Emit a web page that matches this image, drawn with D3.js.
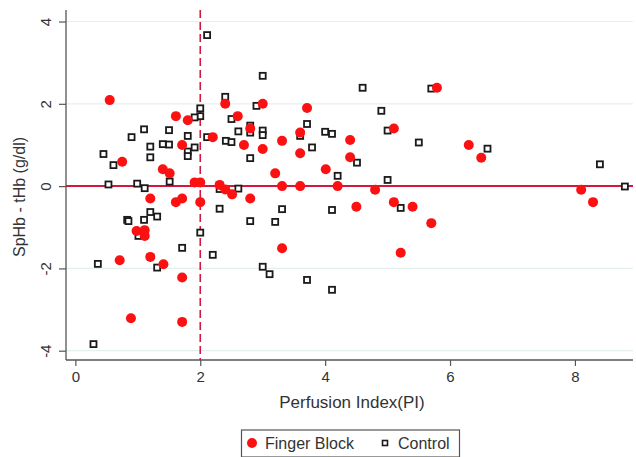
<!DOCTYPE html>
<html><head><meta charset="utf-8">
<script src="https://cdn.jsdelivr.net/npm/d3@7"></script>
<style>body{margin:0;background:#fff}svg{display:block;font-family:"Liberation Sans",Arial,Helvetica,sans-serif}</style>
</head><body>
<svg id="c" width="636" height="457"></svg>
<script>
const xTicks = [0, 2, 4, 6, 8];
const yTicks = [-4, -2, 0, 2, 4];
const seriesNames = ["Finger Block", "Control"];
const xLabel = "Perfusion Index(PI)";
const yLabel = "SpHb - tHb (g/dl)";
const refX = 2;
const refY = 0;

const fingerX = [0.55,2.40,1.61,1.80,2.60,2.80,2.20,2.70,1.71,0.75,1.40,1.51,1.91,2.00,2.31,2.40,2.51,2.80,1.20,1.61,1.71,2.00,0.98,1.11,1.11,0.71,1.20,1.41,1.71,0.89,1.71,5.79,3.00,3.71,3.60,5.10,3.31,4.40,3.00,3.60,4.40,3.20,4.01,3.31,3.60,4.20,4.80,5.10,5.40,4.50,5.70,3.31,5.21,6.30,6.50,8.10,8.29];
const fingerY = [2.09,2.00,1.70,1.60,1.70,1.40,1.19,1.00,1.00,0.59,0.41,0.31,0.09,0.09,0.03,-0.08,-0.20,-0.30,-0.30,-0.39,-0.30,-0.39,-1.09,-1.07,-1.21,-1.80,-1.72,-1.90,-2.22,-3.21,-3.30,2.39,2.00,1.90,1.30,1.40,1.10,1.12,0.90,0.80,0.70,0.31,0.41,0.00,0.00,0.00,-0.09,-0.39,-0.50,-0.50,-0.90,-1.51,-1.62,1.00,0.69,-0.09,-0.39];

const controlX = [2.11,2.40,2.90,2.00,2.00,1.91,2.50,2.80,2.80,2.61,1.10,1.50,1.80,0.90,2.11,2.41,2.50,2.80,1.20,1.40,1.50,1.91,1.80,1.80,0.45,1.20,0.61,1.51,0.53,0.99,1.11,2.31,2.61,2.31,1.20,1.31,1.10,0.83,0.85,2.80,1.01,2.00,1.71,2.20,0.36,1.31,0.29,3.00,4.60,5.70,4.90,3.71,3.00,3.00,3.60,4.00,4.11,5.00,5.50,3.79,4.51,4.20,5.00,5.21,3.31,4.11,3.20,3.00,3.11,3.71,4.11,6.60,8.40,8.80];
const controlY = [3.67,2.17,1.95,1.89,1.70,1.67,1.63,1.47,1.30,1.33,1.38,1.36,1.22,1.19,1.19,1.10,1.07,0.68,0.96,1.02,1.01,0.94,0.84,0.73,0.78,0.70,0.51,0.11,0.04,0.06,-0.05,-0.07,-0.06,-0.55,-0.63,-0.74,-0.82,-0.82,-0.85,-0.85,-1.21,-1.13,-1.50,-1.67,-1.89,-1.98,-3.84,2.68,2.39,2.37,1.83,1.51,1.35,1.24,1.22,1.32,1.27,1.35,1.06,0.94,0.57,0.25,0.15,-0.53,-0.56,-0.58,-0.87,-1.96,-2.14,-2.28,-2.52,0.91,0.53,-0.01];

const svg = d3.select("#c");
const L = 66, R = 633, T = 10, B = 360;
const x = d3.scaleLinear().domain([-0.15, 8.93]).range([L, R]);
const y = d3.scaleLinear().domain([-4.226, 4.28]).range([B, T]);
const lineCol = "#d3173f", axisCol = "#555", red = "#fb1111";
const fmt = d => String(d);

// gridlines
svg.append("g").selectAll("line").data(yTicks.filter(d => d !== 0)).join("line")
  .attr("x1", L).attr("x2", R).attr("y1", d => y(d)).attr("y2", d => y(d))
  .attr("stroke", "#e6eff0").attr("stroke-width", 1.2);

// x axis
const gx = svg.append("g").attr("transform", `translate(0,${B})`)
  .call(d3.axisBottom(x).tickValues(xTicks).tickSize(6).tickPadding(5).tickFormat(fmt));
gx.select(".domain").attr("stroke", axisCol).attr("stroke-width", 1.3).attr("d", `M${L},0H${R}`);
gx.selectAll(".tick line").attr("stroke", axisCol).attr("stroke-width", 1.2);
gx.selectAll(".tick text").attr("font-size", 15).attr("fill", "#333").attr("font-family", "Liberation Sans, Arial");

// y axis
const gy = svg.append("g").attr("transform", `translate(${L},0)`)
  .call(d3.axisLeft(y).tickValues(yTicks).tickSize(7).tickFormat(fmt));
gy.select(".domain").attr("stroke", axisCol).attr("stroke-width", 1.3).attr("d", `M0,${T}V${B}`);
gy.selectAll(".tick line").attr("stroke", axisCol).attr("stroke-width", 1.2);
gy.selectAll(".tick text").attr("font-size", 15).attr("fill", "#333").attr("font-family", "Liberation Sans, Arial")
  .attr("transform", "rotate(-90)").attr("x", 0).attr("y", -15.5).attr("dy", 0).attr("text-anchor", "middle");

// reference lines
svg.append("line").attr("x1", L).attr("x2", R).attr("y1", y(refY)).attr("y2", y(refY))
  .attr("stroke", lineCol).attr("stroke-width", 2);
svg.append("line").attr("x1", x(refX)).attr("x2", x(refX)).attr("y1", T).attr("y2", B)
  .attr("stroke", lineCol).attr("stroke-width", 1.6).attr("stroke-dasharray", "8,4");

// control squares
const cData = controlX.map((v, i) => ({x: v, y: controlY[i]}));
const s = 6;
svg.append("g").selectAll("rect").data(cData).join("rect")
  .attr("x", d => x(d.x) - s / 2).attr("y", d => y(d.y) - s / 2)
  .attr("width", s).attr("height", s)
  .attr("fill", "#fff").attr("stroke", "#1a1a1a").attr("stroke-width", 1.8);

// finger block circles
const fData = fingerX.map((v, i) => ({x: v, y: fingerY[i]}));
svg.append("g").selectAll("circle").data(fData).join("circle")
  .attr("cx", d => x(d.x)).attr("cy", d => y(d.y)).attr("r", 5)
  .attr("fill", red);

// axis titles
svg.append("text").attr("x", 352).attr("y", 408).attr("text-anchor", "middle")
  .attr("font-size", 17).attr("fill", "#333").text(xLabel);
svg.append("text").attr("transform", "translate(25,197) rotate(-90)").attr("text-anchor", "middle")
  .attr("font-size", 16).attr("fill", "#333").text(yLabel);

// legend
const lg = svg.append("g");
lg.append("rect").attr("x", 241.5).attr("y", 430).attr("width", 218).attr("height", 27)
  .attr("fill", "#fff").attr("stroke", "#555").attr("stroke-width", 1.2);
lg.append("circle").attr("cx", 252).attr("cy", 443).attr("r", 5).attr("fill", red);
lg.append("text").attr("x", 265).attr("y", 449).attr("font-size", 16).attr("fill", "#333").text(seriesNames[0]);
lg.append("rect").attr("x", 385 - 2.5).attr("y", 443 - 2.5).attr("width", 5).attr("height", 5)
  .attr("fill", "#fff").attr("stroke", "#1a1a1a").attr("stroke-width", 1.6);
lg.append("text").attr("x", 398).attr("y", 449).attr("font-size", 16).attr("fill", "#333").text(seriesNames[1]);
</script>
</body></html>
